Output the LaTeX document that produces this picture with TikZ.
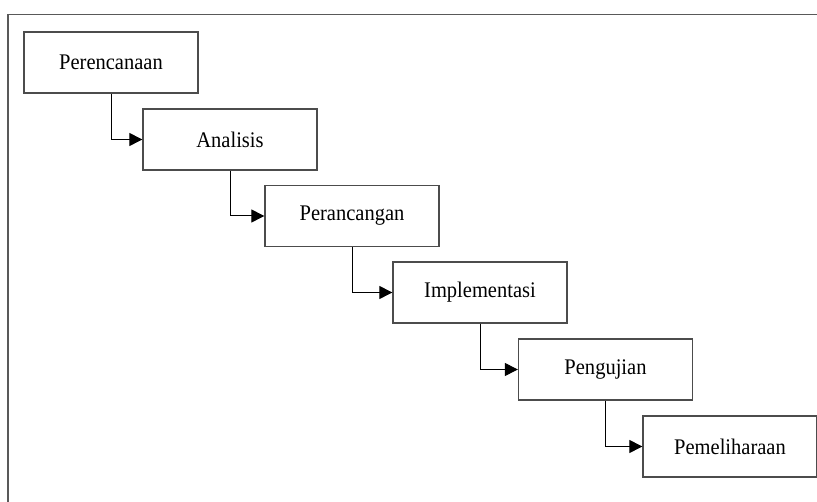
\documentclass[tikz,border=0pt]{standalone}
\usepackage{fontspec}
\setmainfont{Liberation Serif}
\newfontfamily\tahapfont[FakeStretch=0.92]{Liberation Serif}
\usetikzlibrary{arrows.meta}

\begin{document}
\begin{tikzpicture}[x=1pt,y=-1pt,
		tahap/.style={draw=black!70,line width=1.3pt,minimum width=174pt,minimum height=61pt,inner sep=0pt,font=\tahapfont\fontsize{22.3}{26}\selectfont},
		alur/.style={black,line width=1pt,-{Triangle[length=13pt,width=13pt]}}]
		\useasboundingbox (0,0) rectangle (817,502);
		\clip (0,0) rectangle (817,502);
		\draw[black!65,line width=1.5pt] (8,520) |- (840,14.5);
		\node[tahap] (plan) at (111,62.5) {Perencanaan};
		\node[tahap] (analisis) at (230,139.5) {Analisis};
		\node[tahap] (rancang) at (352,216) {Perancangan};
		\node[tahap] (impl) at (480,292.5) {Implementasi};
		\node[tahap] (uji) at (605.5,369.5) {Pengujian};
		\node[tahap] (pelihara) at (730,446.5) {Pemeliharaan};
		\draw[alur] (plan.south) |- (analisis.west);
		\draw[alur] (analisis.south) |- (rancang.west);
		\draw[alur] (rancang.south) |- (impl.west);
		\draw[alur] (impl.south) |- (uji.west);
		\draw[alur] (uji.south) |- (pelihara.west);
\end{tikzpicture}
\end{document}
